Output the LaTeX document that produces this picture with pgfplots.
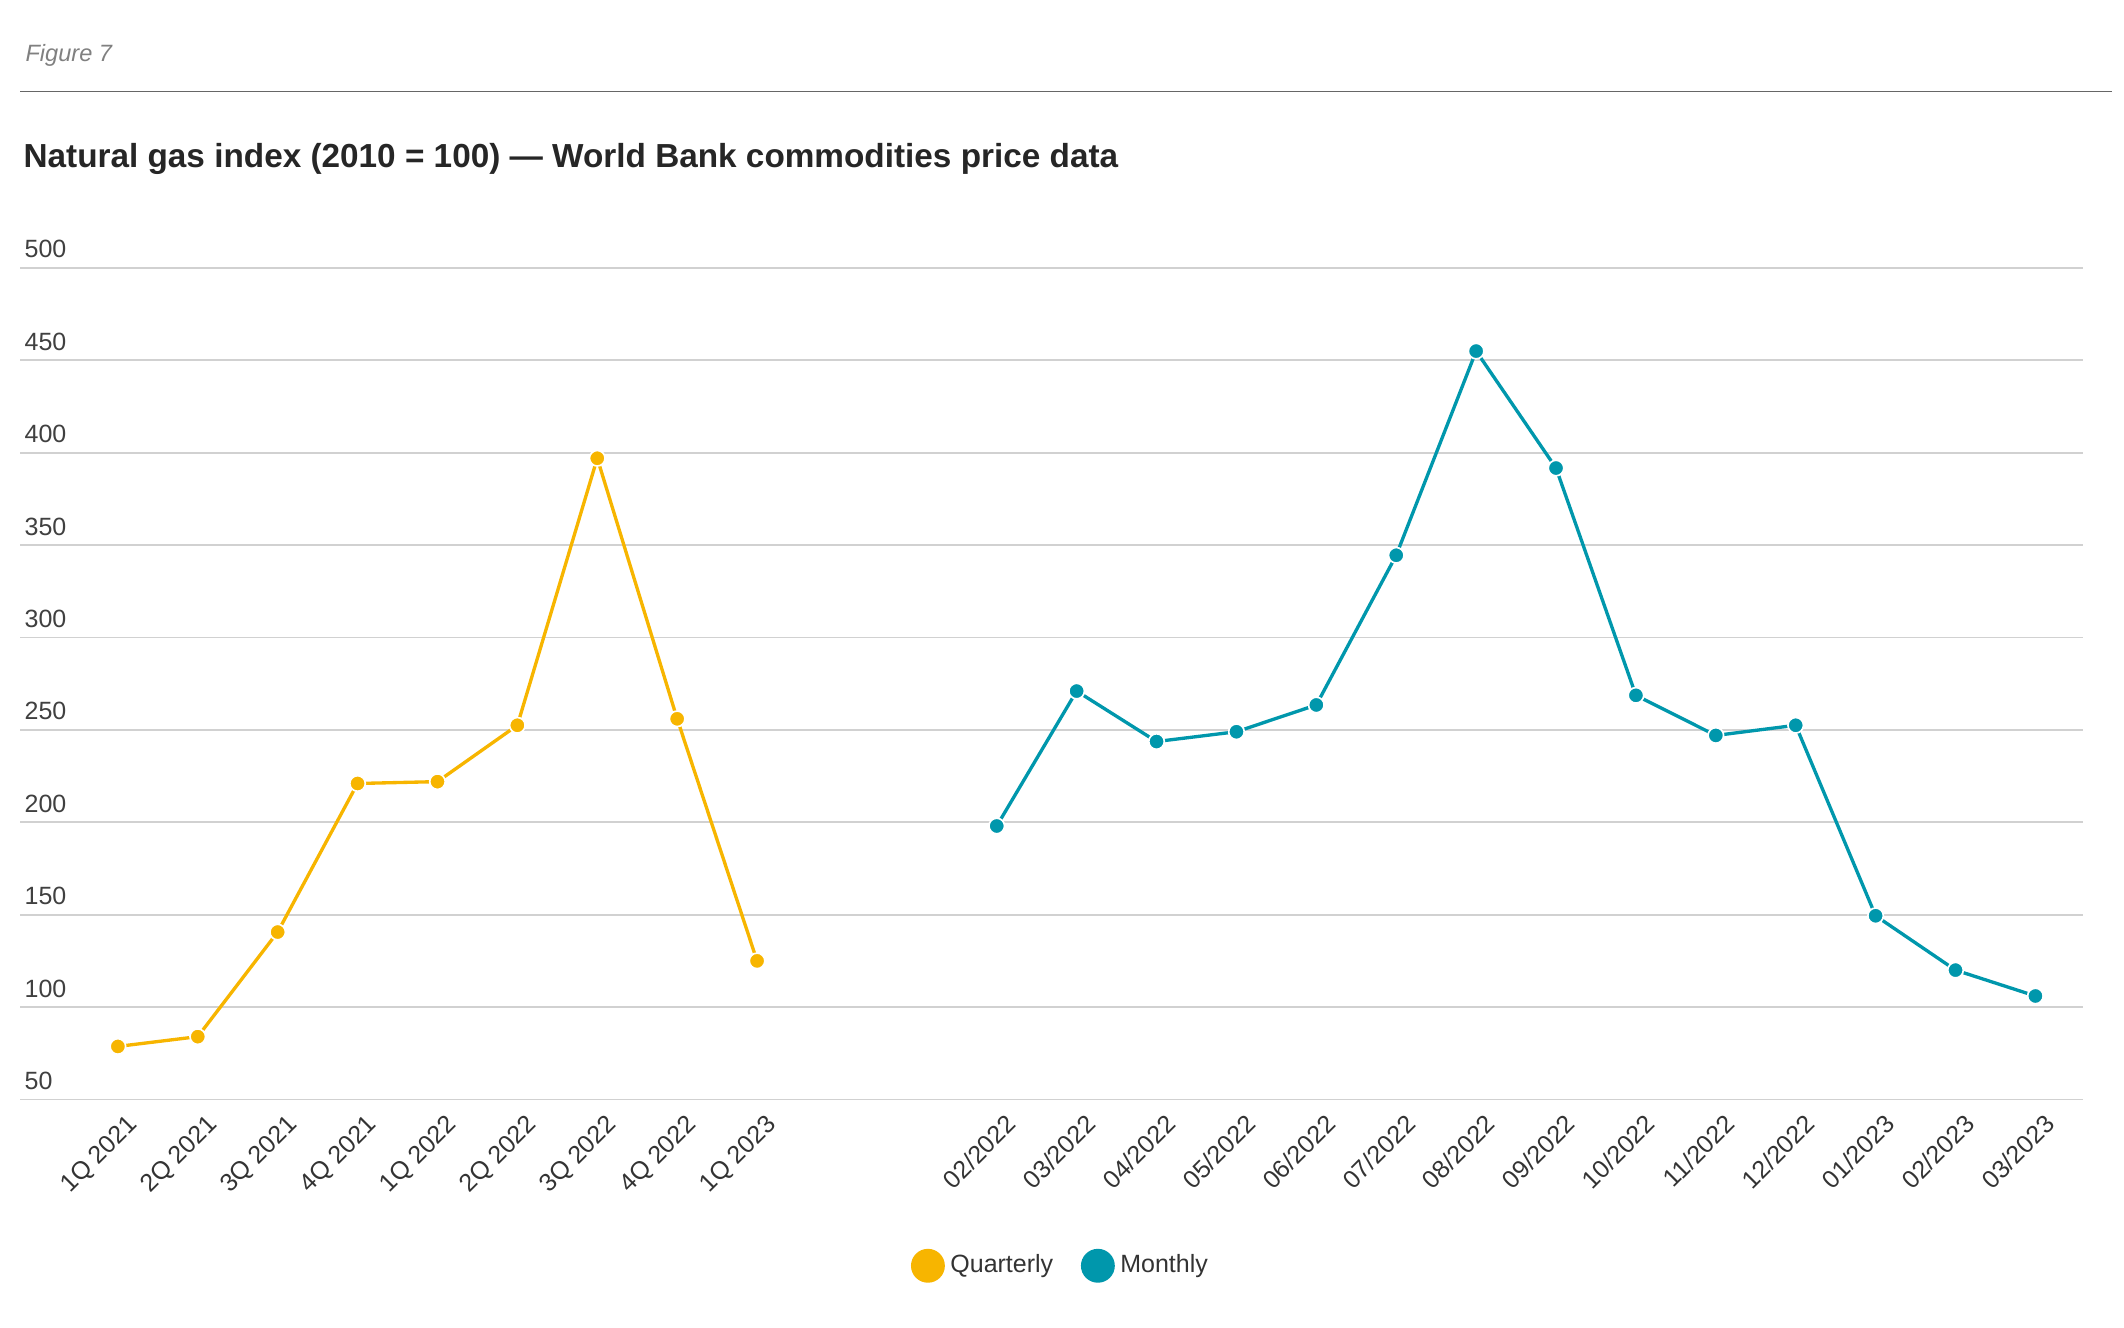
\documentclass[border=0pt]{standalone}
\usepackage{pgfplots}
\pgfplotsset{compat=1.18}
\usepackage{fontspec}
\setmainfont{Liberation Sans}
\definecolor{qy}{HTML}{F7B500}
\definecolor{mt}{HTML}{0097AC}
\begin{document}
\begin{tikzpicture}[x=1pt,y=1pt]
\path (0,0) rectangle (765,478);
\node[anchor=west,text=gray,font=\itshape\fontsize{8.5}{10}\selectfont,inner sep=0pt] at (9,458) {Figure 7};
\draw[gray!80!black,line width=0.6pt] (7.35,445) -- (760.5,445);
\node[anchor=west,font=\bfseries\fontsize{12}{14}\selectfont,text=black!85,inner sep=0pt] at (8.3,420.7) {Natural gas index (2010 = 100) — World Bank commodities price data};
\begin{axis}[at={(7.35pt,82pt)},anchor=south west,scale only axis,width=743pt,height=299.5pt,
 xmin=-1.22,xmax=24.6,ymin=50,ymax=500,
 ytick={50,100,...,500},
 ymajorgrids,grid style={black!18,line width=0.6pt},
 axis line style={draw=none},tick style={draw=none},
 yticklabel style={anchor=south west,xshift=-2pt,yshift=0pt,font=\fontsize{9}{10}\selectfont,text=black!75},
 /pgf/number format/assume math mode=true,
 xtick={0,...,8,11,12,...,24},
 xticklabels={1Q 2021,2Q 2021,3Q 2021,4Q 2021,1Q 2022,2Q 2022,3Q 2022,4Q 2022,1Q 2023,02/2022,03/2022,04/2022,05/2022,06/2022,07/2022,08/2022,09/2022,10/2022,11/2022,12/2022,01/2023,02/2023,03/2023},
 xticklabel style={rotate=45,anchor=north east,font=\fontsize{9}{10}\selectfont,text=black!80,xshift=2pt,yshift=-2pt},
 legend style={at={(0.505,-0.2)},anchor=center,draw=none,legend columns=2,font=\fontsize{9}{10}\selectfont,text=black!80,/tikz/every even column/.append style={column sep=8pt}},
 legend image code/.code={\fill[#1] (0.15cm,0) circle (5.5pt);},
]
\addplot[qy,line width=1.2pt,mark=*,mark size=2.8pt,mark options={draw=white,line width=0.6pt,fill=qy}] coordinates {
(0,78.7)(1,84)(2,140.6)(3,221)(4,222)(5,252.5)(6,397)(7,256)(8,125)};
\addlegendentry{Quarterly}
\addplot[mt,line width=1.2pt,mark=*,mark size=2.8pt,mark options={draw=white,line width=0.6pt,fill=mt}] coordinates {
(11,198)(12,271)(13,243.7)(14,249)(15,263.5)(16,344.5)(17,455)(18,391.7)(19,268.7)(20,247)(21,252.5)(22,149.4)(23,120)(24,106)};
\addlegendentry{Monthly}
\end{axis}
\end{tikzpicture}
\end{document}
